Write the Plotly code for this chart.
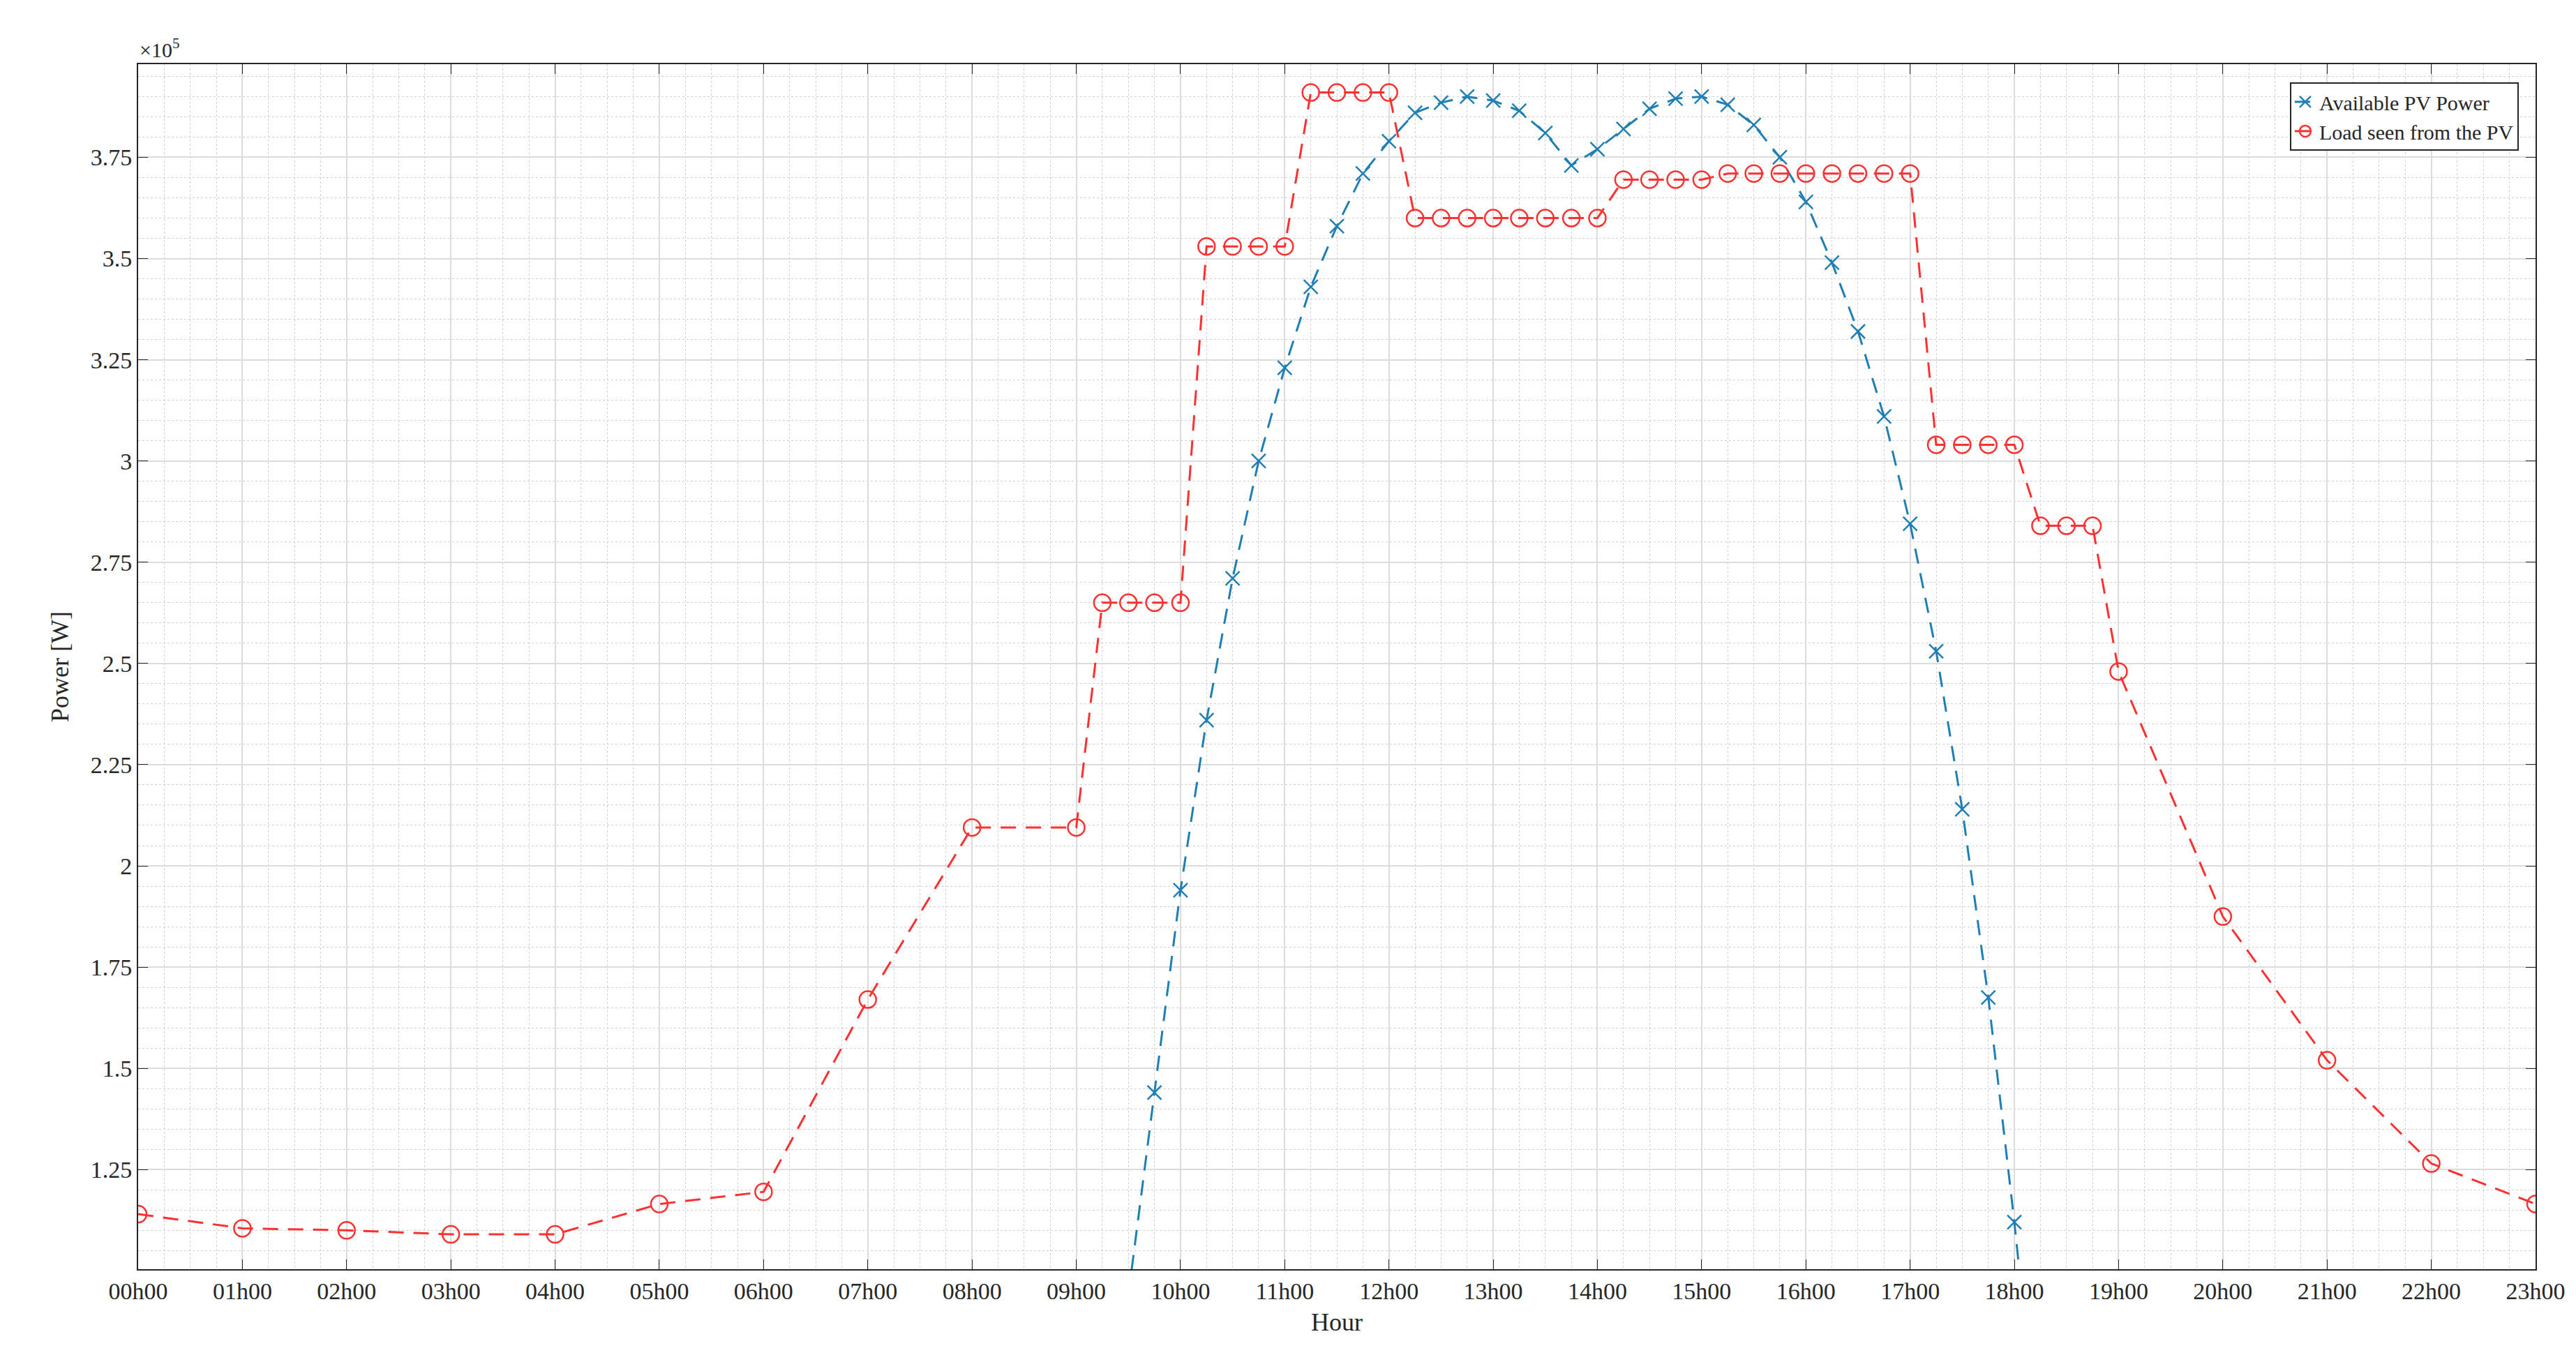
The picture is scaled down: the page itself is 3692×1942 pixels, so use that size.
import plotly.graph_objects as go

# Load seen from the PV (x in hours, y in units of 1e5 W)
load_hours = [0, 1, 2, 3, 4, 5, 6, 7, 8, 9,
              9.25, 9.5, 9.75, 10, 10.25, 10.5, 10.75, 11, 11.25, 11.5, 11.75, 12,
              12.25, 12.5, 12.75, 13, 13.25, 13.5, 13.75, 14,
              14.25, 14.5, 14.75, 15, 15.25, 15.5, 15.75, 16, 16.25, 16.5, 16.75, 17,
              17.25, 17.5, 17.75, 18, 18.25, 18.5, 18.75,
              19, 20, 21, 22, 23]
load_vals = [1.14, 1.105, 1.10, 1.09, 1.09, 1.165, 1.195, 1.67, 2.095, 2.095,
             2.65, 2.65, 2.65, 2.65, 3.53, 3.53, 3.53, 3.53, 3.91, 3.91, 3.91, 3.91,
             3.60, 3.60, 3.60, 3.60, 3.60, 3.60, 3.60, 3.60,
             3.695, 3.695, 3.695, 3.695, 3.71, 3.71, 3.71, 3.71, 3.71, 3.71, 3.71, 3.71,
             3.04, 3.04, 3.04, 3.04, 2.84, 2.84, 2.84,
             2.48, 1.875, 1.52, 1.265, 1.165]

pv_hours = [9.5, 9.75, 10, 10.25, 10.5, 10.75, 11, 11.25, 11.5, 11.75, 12,
            12.25, 12.5, 12.75, 13, 13.25, 13.5, 13.75, 14, 14.25, 14.5, 14.75, 15,
            15.25, 15.5, 15.75, 16, 16.25, 16.5, 16.75, 17, 17.25, 17.5, 17.75, 18, 18.25]
pv_vals = [0.94, 1.44, 1.94, 2.36, 2.71, 3.0, 3.23, 3.43, 3.58, 3.71, 3.79,
           3.86, 3.885, 3.90, 3.89, 3.865, 3.81, 3.73, 3.77, 3.82, 3.87, 3.895, 3.90,
           3.88, 3.83, 3.75, 3.64, 3.49, 3.32, 3.11, 2.845, 2.53, 2.14, 1.675, 1.12, 0.5]

y_ticks = [1.25, 1.5, 1.75, 2, 2.25, 2.5, 2.75, 3, 3.25, 3.5, 3.75]
y_tick_text = ["1.25", "1.5", "1.75", "2", "2.25", "2.5", "2.75", "3", "3.25", "3.5", "3.75"]
x_ticks = list(range(24))
x_tick_text = [f"{h:02d}h00" for h in x_ticks]

scale = 1e5
blue = "#1f7fb4"
red = "#ff3030"
font = "Liberation Serif"

fig = go.Figure()
fig.add_trace(go.Scatter(
    x=pv_hours, y=[v * scale for v in pv_vals], mode="lines+markers",
    name="Available PV Power",
    line=dict(color=blue, width=3, dash="22px,14px"),
    marker=dict(symbol="x-thin-open", size=20, line=dict(color=blue, width=2.5)),
))
fig.add_trace(go.Scatter(
    x=load_hours, y=[v * scale for v in load_vals], mode="lines+markers",
    name="Load seen from the PV",
    line=dict(color=red, width=3, dash="22px,14px"),
    marker=dict(symbol="circle-open", size=24, color=red, line=dict(color=red, width=2.5)),
))

fig.update_layout(
    width=3692, height=1942,
    paper_bgcolor="white", plot_bgcolor="white",
    margin=dict(l=190, r=66, t=84, b=131),
    font=dict(family=font, size=34, color="#262626"),
    showlegend=True,
    legend=dict(x=0.993, y=0.985, xanchor="right", yanchor="top",
                bgcolor="white", bordercolor="#262626", borderwidth=2,
                font=dict(family=font, size=30)),
)
fig.update_xaxes(
    range=[0, 23], tickvals=x_ticks, ticktext=x_tick_text,
    showgrid=True, gridcolor="#dcdcdc", gridwidth=2,
    showline=True, linecolor="#262626", linewidth=2, mirror="ticks",
    ticks="inside", ticklen=14, tickcolor="#262626",
    minor=dict(dtick=0.25, showgrid=True, gridcolor="#d0d0d0", griddash="dot", gridwidth=1),
    title=dict(text="Hour", font=dict(family=font, size=36), standoff=14),
    zeroline=False,
)
fig.update_yaxes(
    range=[1.004e5, 3.98e5], tickvals=[t * scale for t in y_ticks], ticktext=y_tick_text,
    showgrid=True, gridcolor="#dcdcdc", gridwidth=2,
    showline=True, linecolor="#262626", linewidth=2, mirror="ticks",
    ticks="inside", ticklen=14, tickcolor="#262626",
    minor=dict(dtick=0.05 * scale, tick0=1.25 * scale, showgrid=True,
               gridcolor="#d0d0d0", griddash="dot", gridwidth=1),
    title=dict(text="Power [W]", font=dict(family=font, size=36), standoff=20),
    zeroline=False,
)
fig.add_annotation(xref="paper", yref="paper", x=0, y=1, xanchor="left", yanchor="bottom",
                   text="×10<sup>5</sup>", showarrow=False,
                   font=dict(family=font, size=30, color="#262626"), yshift=2)

fig.write_html("out.html")
